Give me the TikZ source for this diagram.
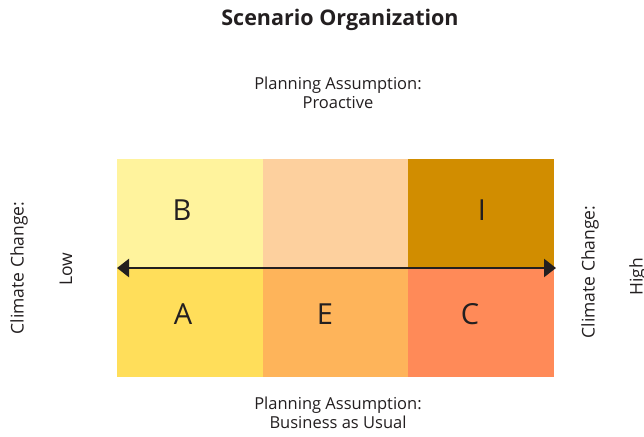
\documentclass[tikz,border=0pt]{standalone}
\usepackage{fontspec}
\setmainfont{Open Sans}
\usetikzlibrary{arrows.meta}
\definecolor{cB}{HTML}{FFF39D}
\definecolor{cP}{HTML}{FDD09E}
\definecolor{cI}{HTML}{D18D00}
\definecolor{cA}{HTML}{FFDE5A}
\definecolor{cE}{HTML}{FEB45A}
\definecolor{cC}{HTML}{FF8A58}
\definecolor{ink}{HTML}{231F20}
\tikzset{
  letter/.style={font=\fontsize{29}{34}\selectfont, text=ink, inner sep=0pt},
  lab/.style={font=\fontsize{16.5}{19.5}\selectfont, text=ink, align=center, inner sep=0pt},
  vlab/.style={font=\fontsize{17.5}{19}\selectfont, text=ink, rotate=90, inner sep=0pt},
  axis/.style={ink, line width=2.4pt, {Triangle[length=12pt,width=18pt]}-{Triangle[length=12pt,width=18pt]}}
}
\begin{document}
\begin{tikzpicture}[x=1pt,y=-1pt]
\useasboundingbox (0,0) rectangle (644,436);
\fill[white] (0,0) rectangle (644,436);
\fill[cB] (117,159) rectangle (263,268);
\fill[cP] (263,159) rectangle (408,268);
\fill[cI] (408,159) rectangle (554,268);
\fill[cA] (117,268) rectangle (263,377);
\fill[cE] (263,268) rectangle (408,377);
\fill[cC] (408,268) rectangle (554,377);
\node[font=\bfseries\fontsize{21.5}{24}\selectfont, text=ink] (title) at (340,20) {Scenario Organization};
\node[lab] (top) at (338,93) {Planning Assumption:\\Proactive};
\node[lab] (bot) at (338,413) {Planning Assumption:\\Business as Usual};
\node[letter] (B) at (182,210) {B};
\node[letter] (I) at (482,210) {I};
\node[letter] (A) at (183,314) {A};
\node[letter] (E) at (325,314) {E};
\node[letter] (C) at (470,314) {C};
\node[vlab] (lcc) at (19,268) {Climate Change:};
\node[vlab] (low) at (66,269) {Low};
\node[vlab] (rcc) at (590,272) {Climate Change:};
\node[vlab] (high) at (638,277) {High};
\coordinate (L) at (117,268);
\coordinate (R) at (556,268);
\draw[axis] (L) -- (R);
\end{tikzpicture}
\end{document}
